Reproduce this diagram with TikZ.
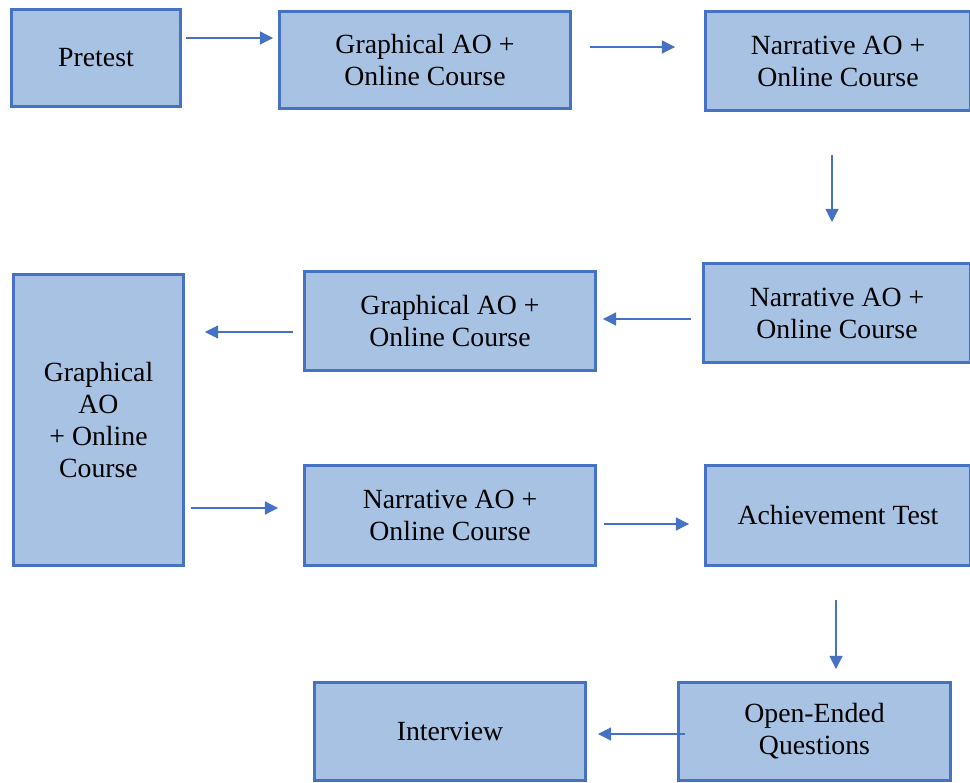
\documentclass[tikz,border=0pt]{standalone}
\usepackage{fontspec}
\setmainfont{Liberation Serif}
\usetikzlibrary{arrows.meta}

\definecolor{boxfill}{RGB}{167,194,227}
\definecolor{boxline}{RGB}{70,114,196}

\tikzset{
  stage/.style={rectangle, draw=boxline, fill=boxfill, line width=1.7pt,
    align=center, inner sep=0pt, font=\fontsize{15.8}{18.2}\selectfont},
  flow/.style={draw=boxline, line width=0.6pt, -{Triangle[length=7.5pt,width=7.5pt]}}
}

\begin{document}
\begin{tikzpicture}[x=0.02cm, y=-0.02cm]
\useasboundingbox (0,0) rectangle (970,783);

\node[stage, minimum width=3.38cm, minimum height=1.94cm](pretest) at (96, 58) {Pretest};
\node[stage, minimum width=5.82cm, minimum height=1.94cm](graphA) at (425, 60) {Graphical AO +\\Online Course};
\node[stage, minimum width=5.3cm, minimum height=1.98cm](narrA) at (838, 61) {Narrative AO +\\Online Course};

\node[stage, minimum width=5.34cm, minimum height=1.98cm](narrB) at (837, 313) {Narrative AO +\\Online Course};
\node[stage, minimum width=5.82cm, minimum height=1.98cm](graphB) at (450, 321) {Graphical AO +\\Online Course};
\node[stage, minimum width=3.4cm, minimum height=5.82cm](graphC) at (98.5, 420) {Graphical\\AO\\+ Online\\Course};

\node[stage, minimum width=5.82cm, minimum height=2cm](narrC) at (450, 515.5) {Narrative AO +\\Online Course};
\node[stage, minimum width=5.3cm, minimum height=2cm](achieve) at (838, 515.5) {Achievement Test};

\node[stage, minimum width=5.44cm, minimum height=1.96cm](openq) at (814.5, 731.5) {Open-Ended\\Questions};
\node[stage, minimum width=5.42cm, minimum height=1.96cm](interview) at (450, 731.5) {Interview};

% top row
\draw[flow, shorten <=0.08cm, shorten >=0.1cm] (pretest.east |- 0,38) -- (graphA.west |- 0,38);
\draw[flow, shorten <=0.36cm, shorten >=0.58cm] (graphA.east |- 0,47) -- (narrA.west |- 0,47);
\draw[flow, shorten <=0.86cm, shorten >=0.8cm] (narrA.south -| 832,0) -- (narrB.north -| 832,0);

% middle rows
\draw[flow, shorten <=0.22cm, shorten >=0.12cm] (narrB.west |- 0,319) -- (graphB.east |- 0,319);
\draw[flow, shorten <=0.2cm, shorten >=0.4cm] (graphB.west |- 0,332) -- (graphC.east |- 0,332);
\draw[flow, shorten <=0.12cm, shorten >=0.5cm] (graphC.east |- 0,508) -- (narrC.west |- 0,508);
\draw[flow, shorten <=0.14cm, shorten >=0.3cm] (narrC.east |- 0,524) -- (achieve.west |- 0,524);

% bottom
\draw[flow, shorten <=0.66cm, shorten >=0.24cm] (achieve.south -| 836,0) -- (openq.north -| 836,0);
\draw[flow, shorten <=-0.16cm, shorten >=0.22cm] (openq.west |- 0,734) -- (interview.east |- 0,734);

\end{tikzpicture}
\end{document}
